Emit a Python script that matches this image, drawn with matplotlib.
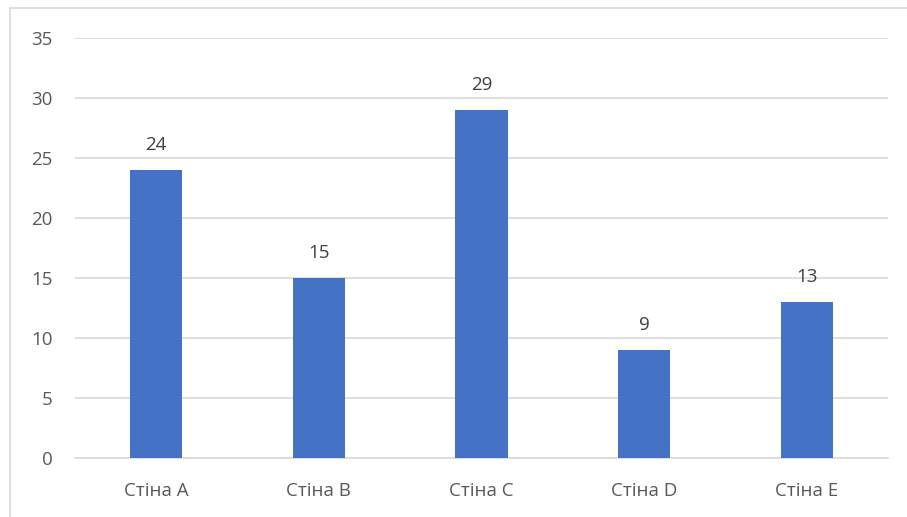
import matplotlib.pyplot as plt
from matplotlib.lines import Line2D

plt.rcParams['font.family'] = ['Open Sans', 'DejaVu Sans']

walls = ["Стіна A", "Стіна B", "Стіна C", "Стіна D", "Стіна E"]
counts = [24, 15, 29, 9, 13]
yticks = [0, 5, 10, 15, 20, 25, 30, 35]

W, H = 907, 517
fig = plt.figure(figsize=(W / 100, H / 100), dpi=100)
ax = fig.add_axes([75 / W, 59 / H, 813 / W, 420 / H])

bars = ax.bar(range(len(walls)), counts, width=0.32, color="#4472C4", zorder=3)
for b, v in zip(bars, counts):
    ax.annotate(str(v), (b.get_x() + b.get_width() / 2, v), xytext=(0, 11.5),
                textcoords="offset points", ha="center", va="bottom",
                fontsize=13.5, color="#404040")

ax.set_xlim(-0.5, len(walls) - 0.5)
ax.set_ylim(0, 35)
ax.set_yticks(yticks)
ax.set_xticks(range(len(walls)))
ax.set_xticklabels(walls)
ax.yaxis.grid(True, color="#D9D9D9", linewidth=1.2, zorder=0)
ax.tick_params(axis="both", length=0, labelsize=13.5, colors="#595959")
ax.tick_params(axis="y", pad=16)
ax.tick_params(axis="x", pad=17)
for s in ["top", "right", "left"]:
    ax.spines[s].set_visible(False)
ax.spines["bottom"].set_color("#D9D9D9")
ax.spines["bottom"].set_linewidth(1.2)

# chart frame: only top and left edges are inside the canvas
frame = dict(transform=fig.transFigure, color="#D9D9D9", linewidth=1.2)
fig.lines.append(Line2D([10 / W, 10 / W], [0, 1 - 8 / H], **frame))
fig.lines.append(Line2D([10 / W, 1], [1 - 8 / H, 1 - 8 / H], **frame))

fig.savefig("out.png", dpi=100)
